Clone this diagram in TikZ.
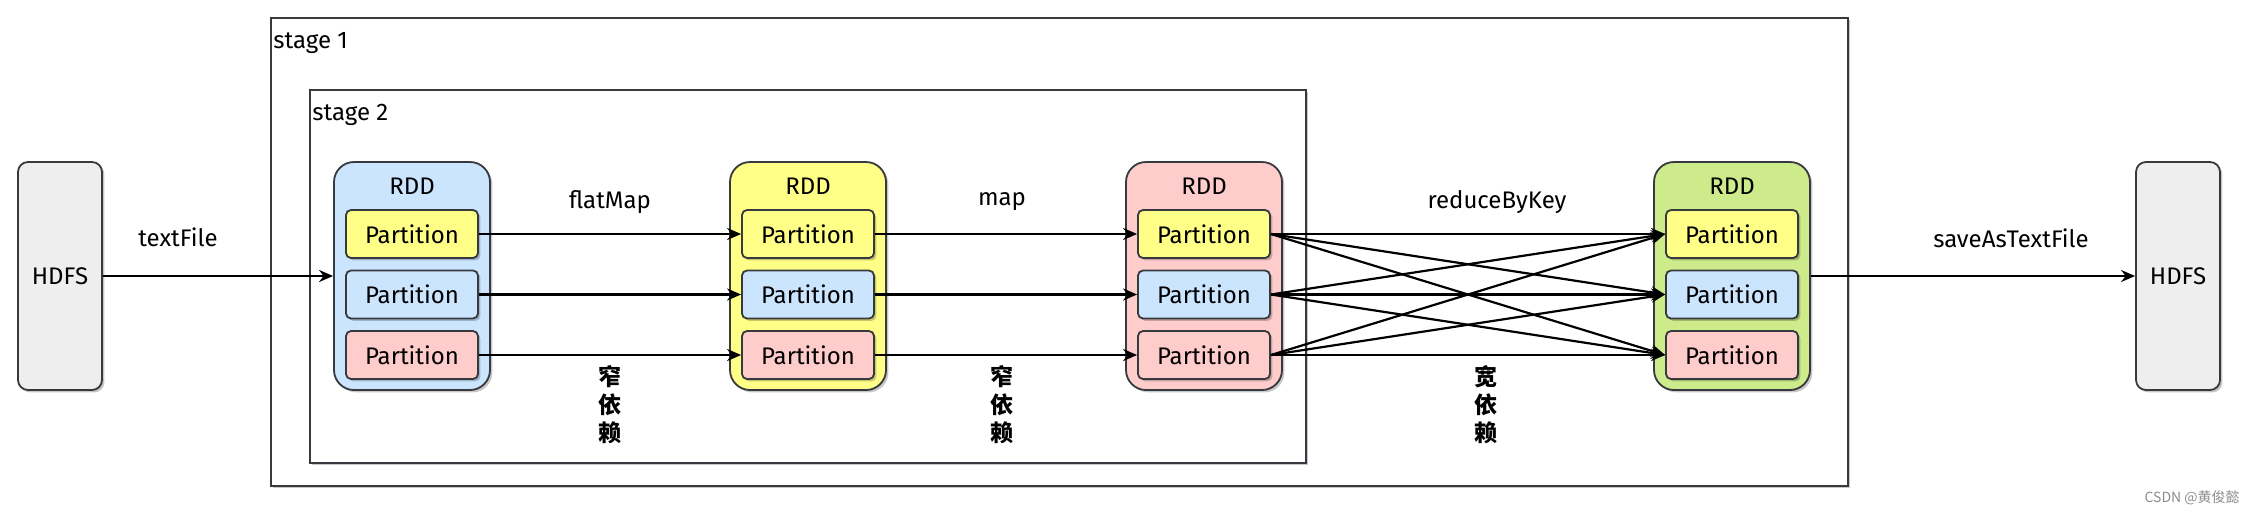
\documentclass[tikz,border=0pt]{standalone}
\usepackage{fontspec}
\setmainfont{Fira Sans}
\newfontfamily\cjk{Noto Sans CJK SC}
\usetikzlibrary{arrows.meta,shadows}

\definecolor{edgegray}{HTML}{36393D}
\definecolor{partyellow}{HTML}{FFFF88}
\definecolor{partblue}{HTML}{CCE5FF}
\definecolor{partpink}{HTML}{FFCCCC}
\definecolor{rddgreen}{HTML}{CDEB8B}
\definecolor{hdfsgray}{HTML}{EEEEEE}

\tikzset{
  softshadow/.style={drop shadow={shadow xshift=1.2pt,shadow yshift=-1.2pt,opacity=0.22,fill=black}},
  stagebox/.style={draw=edgegray,fill=white,line width=0.9pt,softshadow},
  rddbox/.style={draw=edgegray,line width=0.9pt,rounded corners=10pt,
    minimum width=78pt,minimum height=114pt,softshadow},
  hdfsbox/.style={draw=edgegray,fill=hdfsgray,line width=0.9pt,rounded corners=5pt,
    minimum width=42pt,minimum height=114pt,font=\fontsize{12}{14}\selectfont,softshadow},
  partbox/.style={draw=edgegray,line width=0.9pt,rounded corners=2.5pt,
    minimum width=66pt,minimum height=24pt,inner sep=0pt,
    font=\fontsize{12}{14}\selectfont,softshadow},
  oplabel/.style={font=\fontsize{12}{14}\selectfont},
  deplabel/.style={font=\cjk\bfseries\fontsize{11.5}{14}\selectfont,align=center},
  flow/.style={-{Stealth[length=7pt,width=6pt]},line width=1.1pt,black},
}

\begin{document}
\begin{tikzpicture}[x=0.5pt,y=-0.5pt]
  \useasboundingbox (0,0) rectangle (2250,516);

  % stages
  \draw[stagebox] (271,18) rectangle (1848,486);
  \draw[stagebox] (310,90) rectangle (1306,463);
  \node[oplabel,anchor=west,inner sep=0pt] (stageA) at (273,43) {stage 1};
  \node[oplabel,anchor=west,inner sep=0pt] (stageB) at (312,115) {stage 2};

  % storage
  \node[hdfsbox] (hdfsin) at (60,276) {HDFS};
  \node[hdfsbox] (hdfsout) at (2178,276) {HDFS};

  % rdds
  \node[rddbox,fill=partblue] (rdd1) at (412,276) {};
  \node[rddbox,fill=partyellow] (rdd2) at (808,276) {};
  \node[rddbox,fill=partpink] (rdd3) at (1204,276) {};
  \node[rddbox,fill=rddgreen] (rdd4) at (1732,276) {};
  \node[oplabel] (title1) at (412,186) {RDD};
  \node[oplabel] (title2) at (808,186) {RDD};
  \node[oplabel] (title3) at (1204,186) {RDD};
  \node[oplabel] (title4) at (1732,186) {RDD};

  % partitions
  \node[partbox,fill=partyellow] (p11) at (412,234) {Partition};
  \node[partbox,fill=partblue]   (p12) at (412,294.5) {Partition};
  \node[partbox,fill=partpink]   (p13) at (412,355) {Partition};
  \node[partbox,fill=partyellow] (p21) at (808,234) {Partition};
  \node[partbox,fill=partblue]   (p22) at (808,294.5) {Partition};
  \node[partbox,fill=partpink]   (p23) at (808,355) {Partition};
  \node[partbox,fill=partyellow] (p31) at (1204,234) {Partition};
  \node[partbox,fill=partblue]   (p32) at (1204,294.5) {Partition};
  \node[partbox,fill=partpink]   (p33) at (1204,355) {Partition};
  \node[partbox,fill=partyellow] (p41) at (1732,234) {Partition};
  \node[partbox,fill=partblue]   (p42) at (1732,294.5) {Partition};
  \node[partbox,fill=partpink]   (p43) at (1732,355) {Partition};

  % operations
  \node[oplabel] (textfile) at (178,237) {textFile};
  \node[oplabel] (flatmap) at (610,202) {flatMap};
  \node[oplabel] (mapop) at (1002,202) {map};
  \node[oplabel] (reduce) at (1497,202) {reduceByKey};
  \node[oplabel] (save) at (2011,238) {saveAsTextFile};
  \node[deplabel] (narrowA) at (610,405) {窄\\依\\赖};
  \node[deplabel] (narrowB) at (1002,405) {窄\\依\\赖};
  \node[deplabel] (wide) at (1486,405) {宽\\依\\赖};

  \draw[flow] (hdfsin) -- (rdd1);
  \draw[flow] (p11) -- (p21);
  \draw[flow] (p12) -- (p22);
  \draw[flow] (p13) -- (p23);
  \draw[flow] (p21) -- (p31);
  \draw[flow] (p22) -- (p32);
  \draw[flow] (p23) -- (p33);
  \draw[flow] (p31.east) -- (p41.west);
  \draw[flow] (p31.east) -- (p42.west);
  \draw[flow] (p31.east) -- (p43.west);
  \draw[flow] (p32.east) -- (p41.west);
  \draw[flow] (p32.east) -- (p42.west);
  \draw[flow] (p32.east) -- (p43.west);
  \draw[flow] (p33.east) -- (p41.west);
  \draw[flow] (p33.east) -- (p42.west);
  \draw[flow] (p33.east) -- (p43.west);
  \draw[flow] (rdd4) -- (hdfsout);

  \node[font=\cjk\fontsize{7}{8}\selectfont,text=black!45,anchor=east,inner sep=0pt] (mark) at (2240,498) {CSDN @黄俊懿};
\end{tikzpicture}
\end{document}
